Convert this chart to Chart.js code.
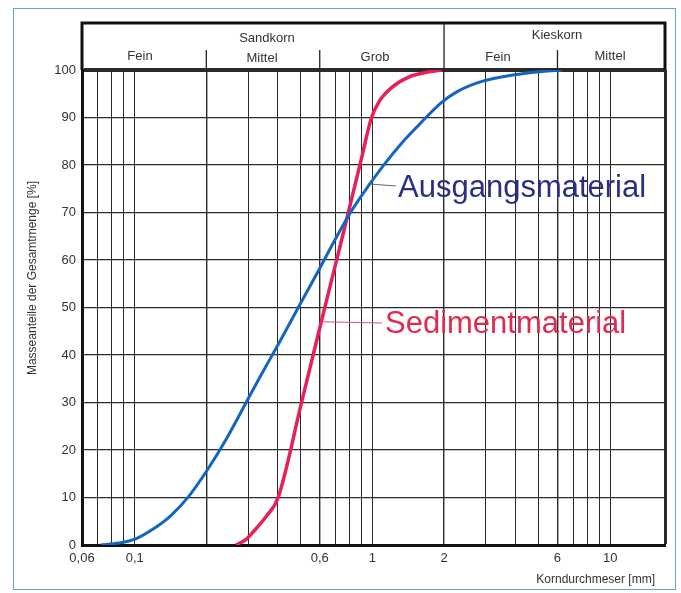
<!DOCTYPE html>
<html>
<head>
<meta charset="utf-8">
<script src="https://cdn.jsdelivr.net/npm/chart.js@4.4.1/dist/chart.umd.min.js"></script>
<style>
  html, body { margin: 0; padding: 0; background: #fff; }
  #wrap { position: relative; width: 681px; height: 593px; }
  #frame { position: absolute; left: 13px; top: 8px; width: 663px; height: 582px; border: 1.5px solid #5fa9c9; box-sizing: border-box; pointer-events: none; }
  canvas { position: absolute; left: 0; top: 0; }
</style>
</head>
<body>
<div id="wrap">
  <canvas id="c" width="681" height="593"></canvas>
  <div id="frame"></div>
</div>
<script>
// ---- data ----
const xGridValues = [0.06, 0.07, 0.08, 0.09, 0.1, 0.2, 0.3, 0.4, 0.5, 0.6, 0.7, 0.8, 0.9, 1, 2, 3, 4, 5, 6, 7, 8, 9, 10, 17];
const xTickLabels = {0.06: '0,06', 0.1: '0,1', 0.6: '0,6', 1: '1', 2: '2', 6: '6', 10: '10'};
const yTicks = [0, 10, 20, 30, 40, 50, 60, 70, 80, 90, 100];

const ausgangX = [0.0719, 0.0856, 0.101, 0.119, 0.1419, 0.169, 0.2032, 0.2445, 0.2941, 0.3435, 0.4012, 0.4873, 0.5918, 0.7049, 0.8152, 0.9712, 1.1234, 1.326, 1.564, 1.774, 1.955, 2.262, 2.884, 3.974, 5.166, 6.274];
const ausgangY = [0, 0.4, 1.3, 3.3, 6.2, 10.3, 16, 22.6, 30, 36.2, 42.2, 50, 57.7, 64.8, 70.3, 75.9, 80.2, 84.6, 88.4, 91.2, 93.2, 95.4, 97.6, 99, 99.7, 100];

const sedimentX = [0.2668, 0.294, 0.318, 0.357, 0.401, 0.502, 0.609, 0.740, 0.899, 0.991, 1.071, 1.203, 1.419, 1.690, 1.955];
const sedimentY = [0, 1.2, 3, 6, 10, 29.8, 47, 64, 81.4, 90, 93.5, 96.3, 98.5, 99.5, 100];

const sandClass = {name: 'Sandkorn', subs: ['Fein', 'Mittel', 'Grob'], bounds: [0.06, 0.2, 0.6, 2]};
const kiesClass = {name: 'Kieskorn', subs: ['Fein', 'Mittel'], bounds: [2, 6, 17]};

const seriesNames = ['Ausgangsmaterial', 'Sedimentmaterial'];
const yTitle = 'Masseanteile der Gesamtmenge [%]';
const xTitle = 'Korndurchmeser [mm]';

const toPts = (xs, ys) => xs.map((x, i) => ({x: x, y: ys[i]}));

const FONT = '"Liberation Sans", Arial, sans-serif';
const TXT = '#333';

const overlay = {
  id: 'overlay',
  afterDraw(chart) {
    const ctx = chart.ctx;
    const xs = chart.scales.x, ys = chart.scales.y;
    const L = chart.chartArea.left, R = chart.chartArea.right, T = chart.chartArea.top;
    const hTop = 23;
    ctx.save();
    // header box
    ctx.strokeStyle = '#111';
    ctx.lineWidth = 3;
    ctx.beginPath();
    ctx.moveTo(L, T); ctx.lineTo(L, hTop); ctx.lineTo(R, hTop); ctx.lineTo(R, T);
    ctx.stroke();
    // dividers
    ctx.lineWidth = 1.3;
    ctx.strokeStyle = '#222';
    const full = xs.getPixelForValue(sandClass.bounds[3]);
    ctx.beginPath(); ctx.moveTo(full, hTop); ctx.lineTo(full, T); ctx.stroke();
    [sandClass.bounds[1], sandClass.bounds[2], kiesClass.bounds[1]].forEach(v => {
      const p = xs.getPixelForValue(v);
      ctx.beginPath(); ctx.moveTo(p, 50); ctx.lineTo(p, T); ctx.stroke();
    });
    ctx.fillStyle = TXT;
    ctx.font = '13px ' + FONT;
    ctx.textAlign = 'center';
    ctx.textBaseline = 'middle';
    // class names
    ctx.fillText(sandClass.name, 267, 38);
    ctx.fillText(kiesClass.name, 557, 35);
    // sub names
    const subPos = [[140, 56], [262, 58], [375, 57], [498, 57], [610, 56]];
    const subs = sandClass.subs.concat(kiesClass.subs);
    subs.forEach((s, i) => ctx.fillText(s, subPos[i][0], subPos[i][1]));
    // axis titles
    ctx.font = '12px ' + FONT;
    ctx.textAlign = 'right';
    ctx.fillText(xTitle, 655, 580);
    ctx.save();
    ctx.translate(33, 278);
    ctx.rotate(-Math.PI / 2);
    ctx.textAlign = 'center';
    ctx.fillText(yTitle, 0, 0);
    ctx.restore();
    // series labels with leader lines
    ctx.lineWidth = 1;
    ctx.strokeStyle = '#5a6a8a';
    ctx.beginPath(); ctx.moveTo(xs.getPixelForValue(0.97), ys.getPixelForValue(76)); ctx.lineTo(396, 186); ctx.stroke();
    ctx.strokeStyle = '#e0506e';
    ctx.beginPath(); ctx.moveTo(xs.getPixelForValue(0.61), ys.getPixelForValue(47)); ctx.lineTo(382, 323); ctx.stroke();
    ctx.font = '31px ' + FONT;
    ctx.textAlign = 'left';
    ctx.fillStyle = '#2a2f86';
    ctx.fillText(seriesNames[0], 398, 188);
    ctx.fillStyle = '#e02a50';
    ctx.fillText(seriesNames[1], 385, 324);
    ctx.restore();
  }
};

new Chart(document.getElementById('c'), {
  type: 'scatter',
  data: {
    datasets: [
      {label: seriesNames[0], data: toPts(ausgangX, ausgangY), showLine: true, borderColor: '#1565c0', borderWidth: 3, pointRadius: 0, cubicInterpolationMode: 'monotone'},
      {label: seriesNames[1], data: toPts(sedimentX, sedimentY), showLine: true, borderColor: '#e8205a', borderWidth: 3.5, pointRadius: 0, cubicInterpolationMode: 'monotone'}
    ]
  },
  options: {
    responsive: false,
    animation: false,
    layout: {padding: {left: 41, right: 16, top: 70, bottom: 18}},
    plugins: {legend: {display: false}, tooltip: {enabled: false}},
    scales: {
      x: {
        type: 'logarithmic',
        min: 0.06, max: 17,
        afterBuildTicks: (s) => { s.ticks = xGridValues.map(v => ({value: v})); },
        afterFit: (s) => { s.height = 30; },
        ticks: {
          autoSkip: false, maxRotation: 0, padding: 6, color: TXT,
          font: {family: FONT, size: 13},
          callback: (v) => xTickLabels[v] !== undefined ? xTickLabels[v] : ''
        },
        grid: {
          color: '#2a2a2a',
          lineWidth: (c) => (c.tick && c.tick.value === 17) ? 3 : ([0.2, 0.6, 2, 6].includes(c.tick && c.tick.value) ? 1.4 : 1),
          drawTicks: false
        },
        border: {display: true, width: 3, color: '#111'}
      },
      y: {
        min: 0, max: 100,
        afterBuildTicks: (s) => { s.ticks = yTicks.map(v => ({value: v})); },
        afterFit: (s) => { s.width = 41; },
        ticks: {color: TXT, padding: 6, font: {family: FONT, size: 13}},
        grid: {
          color: '#2a2a2a',
          lineWidth: (c) => (c.tick && c.tick.value === 100) ? 4 : 1.2,
          drawTicks: false
        },
        border: {display: true, width: 3, color: '#111'}
      }
    }
  },
  plugins: [overlay]
});
</script>
</body>
</html>
